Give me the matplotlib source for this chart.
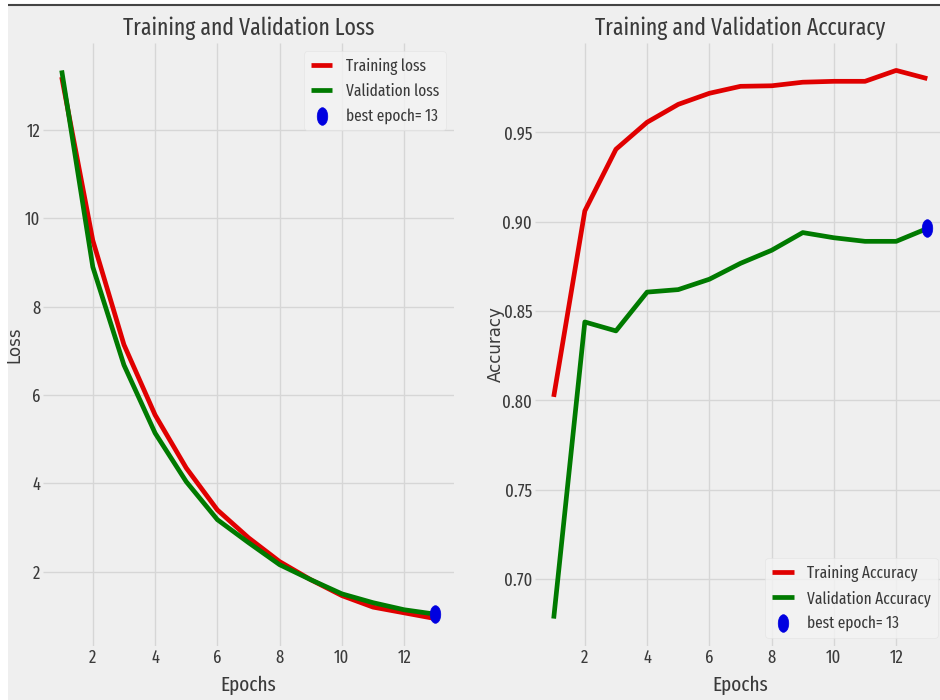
import numpy as np
import matplotlib
matplotlib.use("Agg")
import matplotlib.pyplot as plt
from matplotlib import font_manager
from matplotlib.path import Path
from matplotlib.transforms import Affine2D
from matplotlib.patches import Rectangle
from matplotlib.lines import Line2D

epochs = [1, 2, 3, 4, 5, 6, 7, 8, 9, 10, 11, 12, 13]
tr_loss = [13.20, 9.50, 7.14, 5.55, 4.35, 3.40, 2.77, 2.23, 1.82, 1.46, 1.20, 1.07, 0.94]
val_loss = [13.35, 8.90, 6.68, 5.14, 4.04, 3.18, 2.66, 2.16, 1.82, 1.50, 1.30, 1.14, 1.04]
tr_acc = [0.802, 0.906, 0.9405, 0.9556, 0.9656, 0.9718, 0.9757, 0.9760, 0.9780, 0.9785, 0.9785, 0.9846, 0.9800]
val_acc = [0.678, 0.8439, 0.8389, 0.8606, 0.8620, 0.8678, 0.8767, 0.8840, 0.8939, 0.8910, 0.8890, 0.8890, 0.8962]

W, H = 940, 700

plt.style.use('fivethirtyeight')


def width_rank(name):
    n = name.lower().replace(' ', '').replace('-', '')
    if 'extracondensed' in n:
        return 0
    if 'semicondensed' in n:
        return 3
    if 'condensed' in n:
        return 1
    if 'narrow' in n:
        return 2
    return None


# look for a narrow regular sans face, else stay on DejaVu Sans
best = None
for f in font_manager.fontManager.ttflist:
    r = width_rank(f.name)
    if r is None or f.style != 'normal' or f.weight not in (400, 'normal', 'regular', 'book'):
        continue
    if 'mono' in f.name.lower() or 'serif' in f.name.lower():
        continue
    key = (r, 0 if 'sans' in f.name.lower() else 1)
    if best is None or key < best[0]:
        best = (key, f.name)

if best is not None:
    plt.rcParams['font.family'] = [best[1], 'DejaVu Sans']
    fs_title, fs_tick, fs_label, fs_leg = 17, 13, 15, 12
else:
    plt.rcParams['font.family'] = ['DejaVu Sans']
    fs_title, fs_tick, fs_label, fs_leg = 14, 11, 12, 10
text_col = '#3a3a3a'

# best epoch picked from the validation curves
idx_loss = int(np.argmin(val_loss))
idx_acc = int(np.argmax(val_acc))

# squashed circle used for the best-epoch marker
ellipse = Path.unit_circle().transformed(Affine2D().scale(0.6, 1.0))

fig = plt.figure(figsize=(W / 100, H / 100), dpi=100, facecolor='white')
fig.patches.append(Rectangle((8 / W, 0), 1, (H - 6) / H, transform=fig.transFigure,
                             facecolor='#efefef', edgecolor='none', zorder=-10))
fig.add_artist(Line2D([8 / W, 1], [(H - 5) / H] * 2, transform=fig.transFigure,
                      color='#444444', lw=1.5))


def pos(x0, y0, x1, y1):
    return [x0 / W, 1 - y1 / H, (x1 - x0) / W, (y1 - y0) / H]


ax1 = fig.add_axes(pos(43, 43, 454, 646))
ax2 = fig.add_axes(pos(535, 43, 946, 646))

ax1.plot(epochs, tr_loss, color='#e00000', lw=3.4, label='Training loss', zorder=3)
ax1.plot(epochs, val_loss, color='#007a00', lw=3.4, label='Validation loss', zorder=3)
ax1.scatter(epochs[idx_loss], val_loss[idx_loss], s=160, marker=ellipse, color='#0000e0',
            label='best epoch= ' + str(epochs[idx_loss]), zorder=4)
ax1.set_title('Training and Validation Loss', fontsize=fs_title, color=text_col, pad=6)
ax1.set_xlabel('Epochs', fontsize=fs_label, color=text_col, labelpad=6)
ax1.set_ylabel('Loss', fontsize=12, color=text_col, family='DejaVu Sans')
ax1.yaxis.set_label_coords(-0.048, 0.5)
ax1.legend(loc='upper right', fontsize=fs_leg, handlelength=1.3)

ax2.plot(epochs, tr_acc, color='#e00000', lw=3.4, label='Training Accuracy', zorder=3)
ax2.plot(epochs, val_acc, color='#007a00', lw=3.4, label='Validation Accuracy', zorder=3)
ax2.scatter(epochs[idx_acc], val_acc[idx_acc], s=160, marker=ellipse, color='#0000e0',
            label='best epoch= ' + str(epochs[idx_acc]), zorder=4)
ax2.set_title('Training and Validation Accuracy', fontsize=fs_title, color=text_col, pad=6)
ax2.set_xlabel('Epochs', fontsize=fs_label, color=text_col, labelpad=6)
ax2.set_ylabel('Accuracy', fontsize=12, color=text_col, family='DejaVu Sans')
ax2.yaxis.set_label_coords(-0.073, 0.5)
ax2.legend(loc='lower right', fontsize=fs_leg, handlelength=1.3)

for ax in (ax1, ax2):
    ax.set_facecolor('#efefef')
    ax.grid(True, color='#d6d6d6', lw=1.0)
    ax.set_xticks([2, 4, 6, 8, 10, 12])
    ax.tick_params(labelsize=fs_tick, labelcolor=text_col, pad=2)
    for s in ax.spines.values():
        s.set_visible(False)
    leg = ax.get_legend()
    leg.get_frame().set_facecolor('#f3f3f3')
    leg.get_frame().set_edgecolor('#e2e2e2')
    for t in leg.get_texts():
        t.set_color(text_col)

ax1.set_yticks([2, 4, 6, 8, 10, 12])
ax2.set_yticks([0.70, 0.75, 0.80, 0.85, 0.90, 0.95])

fig.savefig('out.png', dpi=100, facecolor=fig.get_facecolor())
